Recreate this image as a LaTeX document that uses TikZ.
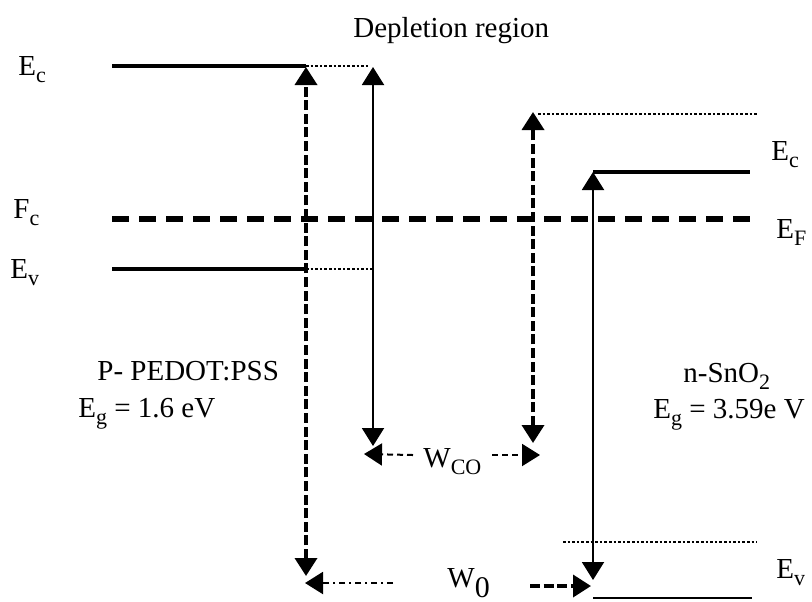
\documentclass[tikz,border=0pt]{standalone}
\usepackage{fontspec}
\setmainfont{Liberation Serif}
\usetikzlibrary{arrows.meta}

\newcommand{\lsub}[1]{\raisebox{-3.5pt}{\fontsize{11}{11}\selectfont #1}}

\tikzset{
  level/.style={line width=2pt},
  ext/.style={line width=1.3pt, densely dotted},
  fermi/.style={line width=3pt, dash pattern=on 8.5pt off 5pt},
  gaparr/.style={line width=1.8pt, dash pattern=on 5pt off 1.8pt},
  thinarr/.style={line width=1pt},
  lbl/.style={inner sep=0pt, anchor=base west, font=\fontsize{14.5}{17}\selectfont},
}

\begin{document}
\begin{tikzpicture}[x=0.5pt, y=-0.5pt, line cap=butt, >={Triangle[width=11pt,length=9pt]}]
  \useasboundingbox (0,0) rectangle (812,601);
  % levels of the p side
  \coordinate (pEcL) at (112,66);
  \coordinate (pEcR) at (306,66);
  \coordinate (pEcD) at (370,66);
  \coordinate (pEvL) at (112,269);
  \coordinate (pEvR) at (306,269);
  \coordinate (pEvD) at (373,269);
  % levels of the n side
  \coordinate (nEcD) at (538,114);
  \coordinate (nEcDR) at (757,114);
  \coordinate (nEcL) at (593,172);
  \coordinate (nEcR) at (750,172);
  \coordinate (nEvD) at (563,542);
  \coordinate (nEvDR) at (757,542);
  \coordinate (nEvL) at (593,598);
  \coordinate (nEvR) at (752,598);
  % Fermi level
  \coordinate (fL) at (112,219);
  \coordinate (fR) at (752,219);
  % arrow ends
  \coordinate (a1t) at (306,67);
  \coordinate (a1b) at (306,576);
  \coordinate (a2t) at (373,67);
  \coordinate (a2b) at (373,446);
  \coordinate (a3t) at (533,112);
  \coordinate (a3b) at (533,443);
  \coordinate (a4t) at (593,172);
  \coordinate (a4b) at (593,580);
  \coordinate (wcoL) at (413,455);
  \coordinate (wcoLt) at (364,454);
  \coordinate (wcoR) at (492,455);
  \coordinate (wcoRt) at (540,455);
  \coordinate (wzL) at (393,583);
  \coordinate (wzLt) at (305,583);
  \coordinate (wzR) at (530,586);
  \coordinate (wzRt) at (591,586);

  % labels
  \node[lbl] (dep) at (353,37) {Depletion region};
  \node[lbl] (ecl) at (18,75) {E\lsub{c}};
  \node[lbl] (fcl) at (13,218) {F\lsub{c}};
  \node[lbl] (evl) at (10,278) {E\lsub{v}};
  \node[lbl] (ecr) at (771,160) {E\lsub{c}};
  \node[lbl] (efr) at (776,238) {E\lsub{F}};
  \node[lbl] (evr) at (776,578) {E\lsub{v}};
  \node[lbl] (pname) at (97,380) {P- PEDOT:PSS};
  \node[lbl] (pgap) at (78,417) {E\lsub{g} = 1.6 eV};
  \node[lbl] (nname) at (683,382) {n-SnO\lsub{2}};
  \node[lbl] (ngap) at (653,418) {E\lsub{g} = 3.59e V};
  \node[lbl] (wco) at (423,467) {W\lsub{CO}};
  \node[lbl] (wz) at (447,587) {W\raisebox{-5pt}{\fontsize{15}{15}\selectfont 0}};

  % bands
  \draw[level] (pEcL) -- (pEcR);
  \draw[ext] (pEcR) -- (pEcD);
  \draw[level] (pEvL) -- (pEvR);
  \draw[ext] (pEvR) -- (pEvD);
  \draw[fermi] (fL) -- (fR);
  \draw[ext] (nEcD) -- (nEcDR);
  \draw[level] (nEcL) -- (nEcR);
  \draw[ext] (nEvD) -- (nEvDR);
  \draw[thinarr] (nEvL) -- (nEvR);

  % widths
  \draw[gaparr, <->] (a1b) -- (a1t);
  \draw[thinarr, <->] (a2b) -- (a2t);
  \draw[gaparr, <->] (a3b) -- (a3t);
  \draw[thinarr, <->] (a4b) -- (a4t);
  \draw[thinarr, densely dashed, ->] (wcoL) -- (wcoLt);
  \draw[thinarr, densely dashed, ->] (wcoR) -- (wcoRt);
  \draw[thinarr, dash dot, ->] (wzL) -- (wzLt);
  \draw[gaparr, ->] (wzR) -- (wzRt);
\end{tikzpicture}
\end{document}
